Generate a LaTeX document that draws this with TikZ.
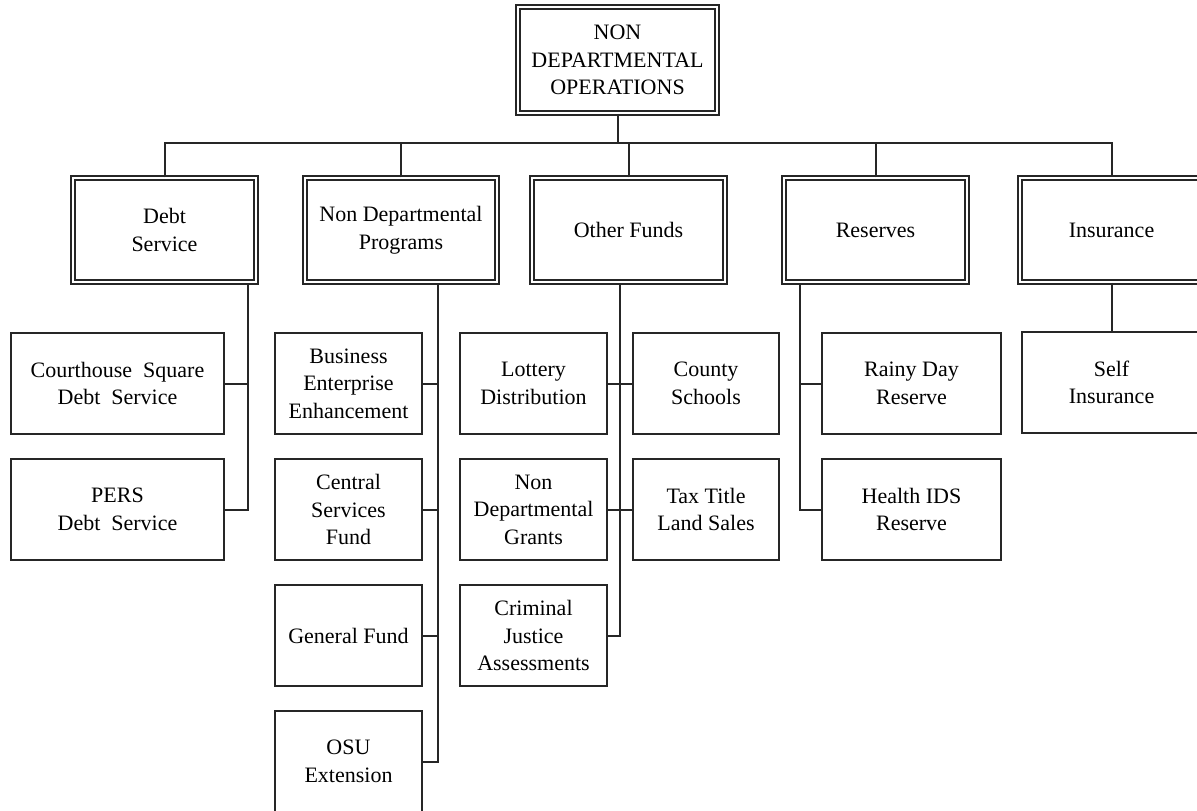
\documentclass[tikz,border=0pt]{standalone}
\usepackage{fontspec}
\setmainfont{Liberation Serif}
\usetikzlibrary{positioning}

\begin{document}
\begin{tikzpicture}[x=1pt, y=-1pt, node distance=23pt, every node/.style={font=\fontsize{22}{27.5}\selectfont}]
      \tikzset{
        topbox/.style={rectangle, draw=black!85, double, double distance=2.2pt, line width=1.5pt, minimum width=199pt, minimum height=106pt, align=center, inner sep=2pt},
        groupbox/.style={rectangle, draw=black!85, double, double distance=2.2pt, line width=1.5pt, minimum width=183pt, minimum height=104pt, align=center, inner sep=2pt},
        itembox/.style={rectangle, draw=black!85, line width=2pt, minimum width=147pt, minimum height=101pt, align=center, inner sep=2pt},
        line/.style={draw=black!85, line width=2pt}
      }
      \useasboundingbox (0,0) rectangle (1197,811);
      \clip (0,0) rectangle (1197,811);

      % Nodes
      \node[topbox] (root) at (617.5,60) {NON\\DEPARTMENTAL\\OPERATIONS};

      \node[groupbox] (debt) at (164.5,230) {Debt\\Service};
      \node[groupbox, minimum width=192pt] (ndp) at (401,230) {Non Departmental\\Programs};
      \node[groupbox, minimum width=193pt] (other) at (628.5,230) {Other Funds};
      \node[groupbox] (reserves) at (875.5,230) {Reserves};
      \node[groupbox] (insurance) at (1111.5,230) {Insurance};

      \node[itembox, minimum width=213pt] (courthouse) at (117.5,383.5) {Courthouse~~Square\\Debt~~Service};
      \node[itembox, minimum width=213pt, below=of courthouse] (pers) {PERS\\Debt~~Service};

      \node[itembox] (business) at (348.5,383.5) {Business\\Enterprise\\Enhancement};
      \node[itembox, below=of business] (central) {Central\\Services\\Fund};
      \node[itembox, below=of central] (general) {General Fund};
      \node[itembox, below=of general] (osu) {OSU\\Extension};

      \node[itembox] (lottery) at (533.5,383.5) {Lottery\\Distribution};
      \node[itembox, below=of lottery] (grants) {Non\\Departmental\\Grants};
      \node[itembox, below=of grants] (criminal) {Criminal\\Justice\\Assessments};
      \node[itembox, minimum width=146pt, right=24pt of lottery] (county) {County\\Schools};
      \node[itembox, minimum width=146pt, below=of county] (taxtitle) {Tax Title\\Land Sales};

      \node[itembox, minimum width=179pt] (rainy) at (911.5,383.5) {Rainy Day\\Reserve};
      \node[itembox, minimum width=179pt, below=of rainy] (health) {Health IDS\\Reserve};

      \node[itembox, minimum width=180pt, below=48pt of insurance] (self) {Self\\Insurance};

      % Connections
      \draw[line] (root.south) -- ++(0,29) coordinate (bus);
      \draw[line] (debt.north) |- (bus) -| (insurance.north);
      \foreach \g in {ndp, other, reserves}
        \draw[line] (\g.north) -- (\g.north |- bus);

      \foreach \c in {courthouse, pers}
        \draw[line] (\c.east) -| ([xshift=-8.5pt]debt.south east);
      \foreach \c in {business, central, general, osu}
        \draw[line] (\c.east) -| ([xshift=37pt]ndp.south);
      \foreach \c in {lottery, grants, criminal}
        \draw[line] (\c.east) -| ([xshift=-8.5pt]other.south);
      \foreach \c in {county, taxtitle}
        \draw[line] (\c.west) -| ([xshift=-8.5pt]other.south);
      \foreach \c in {rainy, health}
        \draw[line] (\c.west) -| ([xshift=16.5pt]reserves.south west);
      \draw[line] (insurance.south) -- (self.north);

    \end{tikzpicture}
\end{document}
